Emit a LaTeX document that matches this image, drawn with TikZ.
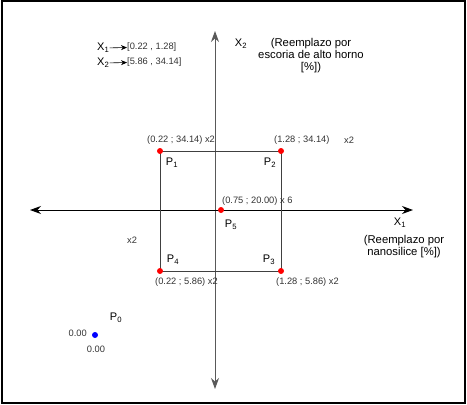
\documentclass[tikz,border=0pt]{standalone}
\usepackage{fontspec}
\setmainfont{Liberation Sans}
\usetikzlibrary{arrows.meta}

\begin{document}
\begin{tikzpicture}[x=1pt, y=-1pt,
  eje/.style={line width=0.9pt, {Stealth[length=11pt, width=8pt]}-{Stealth[length=11pt, width=8pt]}},
  lado/.style={draw=black!75, line width=0.8pt},
  punto/.style={circle, fill=red, inner sep=0pt, minimum size=6pt},
  coord/.style={font=\fontsize{9.3}{10}\selectfont, text=black!80, inner sep=0pt},
  etiq/.style={font=\fontsize{11}{12}\selectfont, inner sep=0pt},
  texto/.style={font=\fontsize{11.3}{12}\selectfont, align=center, inner sep=0pt}]

  \useasboundingbox (0,0) rectangle (467,405);
  \draw[line width=1.5pt] (2,1) rectangle (465,403);

  % ejes
  \coordinate (Yabajo) at (215,389);
  \coordinate (Yarriba) at (215,31);
  \coordinate (Xizq) at (30,210);
  \coordinate (Xder) at (413,210);
  \draw[eje, draw=black!65] (Yabajo) -- (Yarriba);
  \draw[eje] (Xizq) -- (Xder);

  % cuadrado de diseno
  \coordinate (c1) at (160,151);
  \coordinate (c2) at (281,151);
  \coordinate (c3) at (281,271);
  \coordinate (c4) at (160,271);
  \draw[lado] (c1) -- (c2) -- (c3) -- (c4) -- cycle;

  % puntos experimentales
  \node[punto] (P1) at (c1) {};
  \node[punto] (P2) at (c2) {};
  \node[punto] (P3) at (c3) {};
  \node[punto] (P4) at (c4) {};
  \node[punto] (P5) at (221,210) {};
  \node[punto, fill=blue] (P0) at (95,335) {};

  % nombres de los puntos
  \node[etiq] (nP1) at (172,163) {P\textsubscript{1}};
  \node[etiq] (nP2) at (270,163) {P\textsubscript{2}};
  \node[etiq] (nP3) at (269,260) {P\textsubscript{3}};
  \node[etiq] (nP4) at (173,260) {P\textsubscript{4}};
  \node[etiq] (nP5) at (231,225) {P\textsubscript{5}};
  \node[etiq] (nP0) at (116,318) {P\textsubscript{0}};

  % coordenadas de cada punto
  \node[coord, anchor=west] (t1) at (147,140) {(0.22 ; 34.14) x2};
  \node[coord, anchor=west] (t2) at (274,140) {(1.28 ; 34.14)};
  \node[coord, anchor=west] (t2b) at (344,140) {x2};
  \node[coord, anchor=west] (t5) at (222,201) {(0.75 ; 20.00) x 6};
  \node[coord, anchor=west] (t4) at (155,282) {(0.22 ; 5.86) x2};
  \node[coord, anchor=west] (t3) at (276,282) {(1.28 ; 5.86) x2};
  \node[coord, anchor=west] (tx) at (127,240) {x2};
  \node[coord, anchor=east] (t0a) at (87,333) {0.00};
  \node[coord] (t0b) at (96,349) {0.00};

  % nombres de los ejes
  \node[etiq] (X2) at (241,44) {X\textsubscript{2}};
  \node[texto] (tX2) at (311,56) {(Reemplazo por\\escoria de alto horno\\{[\%])}};
  \node[etiq] (X1) at (400,223) {X\textsubscript{1}};
  \node[texto] (tX1) at (404,247) {(Reemplazo por\\nanosilice [\%])};

  % rangos
  \node[etiq, anchor=west] (r1) at (97,48) {X\textsubscript{1}};
  \node[coord, anchor=west] (v1) at (127,47) {[0.22 , 1.28]};
  \node[etiq, anchor=west] (r2) at (97,63) {X\textsubscript{2}};
  \node[coord, anchor=west] (v2) at (127,62) {[5.86 , 34.14]};
  \draw[line width=0.6pt, -{Stealth[length=6pt, width=5pt]}] (r1) -- (v1);
  \draw[line width=0.6pt, -{Stealth[length=6pt, width=5pt]}] (r2) -- (v2);

\end{tikzpicture}
\end{document}
